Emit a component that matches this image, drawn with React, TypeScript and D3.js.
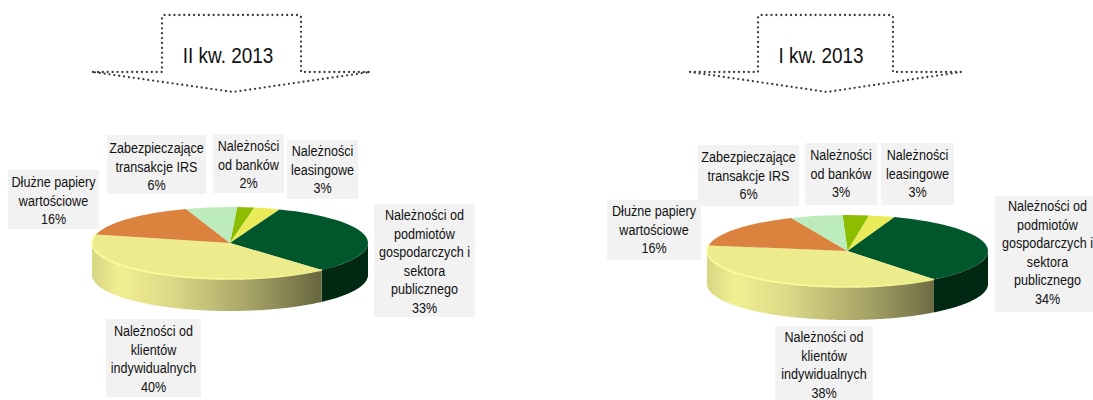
import React from "react";
import * as d3 from "d3";

const categoryKeys = ["banks", "leasing", "business", "retail", "debt", "irs"];
const valuesQ2 = [2, 3, 32.6, 40.4, 16, 6];
const valuesQ1 = [3, 3, 34, 38, 16, 6];
const labelQ2 = ["2%", "3%", "33%", "40%", "16%", "6%"];
const labelQ1 = ["3%", "3%", "34%", "38%", "16%", "6%"];
const categoryLines = [
  ["Należności", "od banków"],
  ["Należności", "leasingowe"],
  ["Należności od", "podmiotów", "gospodarczych i", "sektora", "publicznego"],
  ["Należności od", "klientów", "indywidualnych"],
  ["Dłużne papiery", "wartościowe"],
  ["Zabezpieczające", "transakcje IRS"],
];
const sliceColors = ["#8dbd00", "#ebeb5a", "#00572c", "#edec8c", "#db823e", "#bcebbc"];

type Box = { x0: number; x1: number; y0: number; y1: number; first: number };
const boxesQ2: Box[] = [
  { x0: 213, x1: 284, y0: 134, y1: 193, first: 147 },
  { x0: 287, x1: 358, y0: 140, y1: 199, first: 152 },
  { x0: 374, x1: 475, y0: 204, y1: 317, first: 216 },
  { x0: 106, x1: 201, y0: 319, y1: 397, first: 332 },
  { x0: 8, x1: 99, y0: 170, y1: 229, first: 183 },
  { x0: 107, x1: 206, y0: 135, y1: 194, first: 149 },
];
const boxesQ1: Box[] = [
  { x0: 805, x1: 877, y0: 143, y1: 205, first: 156 },
  { x0: 881, x1: 954, y0: 143, y1: 205, first: 156 },
  { x0: 995, x1: 1100, y0: 196, y1: 312, first: 207 },
  { x0: 775, x1: 873, y0: 326, y1: 410, first: 338 },
  { x0: 607, x1: 701, y0: 200, y1: 260, first: 212 },
  { x0: 698, x1: 799, y0: 145, y1: 206, first: 158 },
];

const FONT = "'Liberation Sans', Arial, sans-serif";
const NARROW = 0.84;
const deg = Math.PI / 180;

function Pie3D({ id, values, cx, cy, rx, ry, depth, start }: any) {
  const pieGen = d3.pie<number>().sort(null).startAngle(start * deg).endAngle((start + 360) * deg);
  const arcs = pieGen(values);
  const arc = d3.arc<any>().innerRadius(0).outerRadius(rx);
  const px = (t: number) => cx + rx * Math.sin(t);
  const py = (t: number) => cy - ry * Math.cos(t);
  const wall = d3
    .area<number>()
    .x((t) => px(t))
    .y0((t) => py(t))
    .y1((t) => py(t) + depth);
  const walls = arcs
    .map((a, i) => {
      const lo = Math.max(a.startAngle, 90 * deg);
      const hi = Math.min(a.endAngle, 270 * deg);
      if (hi <= lo) return null;
      return { i, lo, hi, d: wall(d3.range(lo, hi, 0.01).concat([hi])) as string };
    })
    .filter(Boolean) as any[];
  const retail = arcs[3];
  const rimArc = d3
    .range(retail.startAngle, retail.endAngle, 0.01)
    .concat([retail.endAngle])
    .map((t) => [px(t), py(t)] as [number, number]);
  const x = d3.scaleLinear().domain([0, 1]).range([cx - rx, cx + 0.66 * rx]);
  return (
    <g>
      <defs>
        <linearGradient id={id + "w"} gradientUnits="userSpaceOnUse" x1={x(0)} x2={x(1)} y1="0" y2="0">
          <stop offset="0" stopColor="#d8d584" />
          <stop offset="0.12" stopColor="#f2ef92" />
          <stop offset="0.35" stopColor="#dcd887" />
          <stop offset="0.7" stopColor="#a4a165" />
          <stop offset="1" stopColor="#686640" />
        </linearGradient>
        <linearGradient id={id + "r"} gradientUnits="userSpaceOnUse" x1={x(0)} x2={x(1)} y1="0" y2="0">
          <stop offset="0" stopColor="#fdfd9e" />
          <stop offset="0.55" stopColor="#fbfa9a" />
          <stop offset="1" stopColor="#edec8c" />
        </linearGradient>
      </defs>
      {walls.map((w) => (
        <path key={w.i} d={w.d} fill={w.i === 3 ? `url(#${id}w)` : "#002812"} />
      ))}
      <g transform={`translate(${cx},${cy}) scale(1,${ry / rx})`}>
        {arcs.map((a, i) => (
          <path key={categoryKeys[i]} d={arc(a) as string} fill={sliceColors[i]} />
        ))}
      </g>
      <path d={d3.line()(rimArc) as string} fill="none" stroke={`url(#${id}r)`} strokeWidth={1.6} />
    </g>
  );
}

function Labels({ boxes, pct }: { boxes: Box[]; pct: string[] }) {
  const lh = 18.6;
  return (
    <g fontFamily={FONT} fontSize={15} fill="#111" textAnchor="middle">
      {boxes.map((b, i) => {
        const lines = [...categoryLines[i], pct[i]];
        const mid = (b.x0 + b.x1) / 2;
        return (
          <g key={i}>
            <rect x={b.x0} y={b.y0} width={b.x1 - b.x0} height={b.y1 - b.y0} fill="#f2f2f2" />
            {lines.map((t, j) => (
              <text
                key={j}
                transform={`translate(${mid},${b.first + j * lh}) scale(${NARROW},1)`}
                dominantBaseline="middle"
              >
                {t}
              </text>
            ))}
          </g>
        );
      })}
    </g>
  );
}

function Arrow({ x0, x1, left, right, tip, title, tx }: any) {
  const top = 15;
  const sh = 72;
  const r = 3;
  const p = d3.path();
  p.moveTo(left, sh);
  p.lineTo(x0, sh);
  p.lineTo(x0, top + r);
  p.quadraticCurveTo(x0, top, x0 + r, top);
  p.lineTo(x1 - r, top);
  p.quadraticCurveTo(x1, top, x1, top + r);
  p.lineTo(x1, sh);
  p.lineTo(right, sh);
  p.lineTo(tip, 92);
  p.closePath();
  return (
    <g>
      <path d={p.toString()} fill="none" stroke="#3a3a3a" strokeWidth={2.3} strokeLinecap="round" strokeDasharray="0 4.9" />
      <text
        transform={`translate(${tx},63) scale(0.86,1)`}
        fontFamily={FONT}
        fontSize={22}
        fill="#111"
        textAnchor="middle"
      >
        {title}
      </text>
    </g>
  );
}

export default function App() {
  return (
    <svg width={1093} height={400} style={{ position: "absolute", left: 0, top: 0, display: "block" }}>
      <Arrow x0={162} x1={301} left={93} right={370} tip={233} title="II kw. 2013" tx={228} />
      <Arrow x0={758} x1={893} left={690} right={961} tip={827} title="I kw. 2013" tx={821} />
      <Labels boxes={boxesQ2} pct={labelQ2} />
      <Labels boxes={boxesQ1} pct={labelQ1} />
      <Pie3D id="q2" values={valuesQ2} cx={230} cy={243} rx={138} ry={36} depth={32} start={3} />
      <Pie3D id="q1" values={valuesQ1} cx={847.5} cy={251} rx={140.5} ry={36} depth={33} start={-2} />
    </svg>
  );
}
